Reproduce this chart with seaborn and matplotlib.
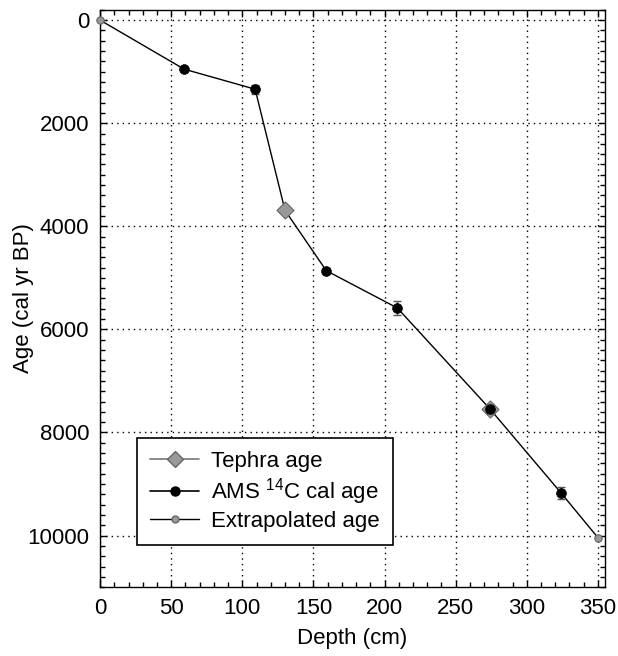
import matplotlib
matplotlib.use("Agg")
import matplotlib.pyplot as plt
from matplotlib.lines import Line2D
from matplotlib.ticker import MultipleLocator
import pandas as pd
import seaborn as sns

# data
ams_depth = [59, 109, 159, 209, 274, 324]
ams_age = [950, 1340, 4860, 5585, 7540, 9170]
ams_err = [40, 90, 50, 130, 100, 115]

tephra_depth = [130, 274]
tephra_age = [3690, 7540]

extrap_depth = [0, 350]
extrap_age = [0, 10040]

sns.set_style("ticks")
plt.rcParams["font.family"] = ["Liberation Sans", "DejaVu Sans"]
plt.rcParams["mathtext.default"] = "regular"
plt.rcParams["font.size"] = 16

# all dated points, connected in depth order
line_df = pd.DataFrame({
    "depth": ams_depth + tephra_depth[:1] + extrap_depth,
    "age": ams_age + tephra_age[:1] + extrap_age,
}).sort_values("depth")

fig = plt.figure(figsize=(6.18, 6.56), dpi=100)
ax = fig.add_axes([0.162, 0.105, 0.817, 0.88])

ax.grid(True, which="major", color="black", linestyle=(0, (1, 3)), linewidth=1.0)
ax.set_axisbelow(True)

sns.lineplot(data=line_df, x="depth", y="age", sort=False, color="black",
             linewidth=1.0, ax=ax, zorder=2)

ax.errorbar(ams_depth, ams_age, yerr=ams_err, fmt="none", ecolor="#555555",
            elinewidth=1.0, capsize=3, capthick=1.0, zorder=3)

sns.scatterplot(x=tephra_depth, y=tephra_age, marker="D", s=75, color="#999999",
                edgecolor="#666666", linewidth=0.8, ax=ax, zorder=4)
sns.scatterplot(x=ams_depth, y=ams_age, marker="o", s=50, color="black",
                edgecolor="black", linewidth=0.5, ax=ax, zorder=5)
sns.scatterplot(x=extrap_depth, y=extrap_age, marker="o", s=28, color="#999999",
                edgecolor="#666666", linewidth=0.8, ax=ax, zorder=5, clip_on=False)

ax.set_xlim(0, 355)
ax.set_ylim(11000, -200)
ax.xaxis.set_major_locator(MultipleLocator(50))
ax.xaxis.set_minor_locator(MultipleLocator(10))
ax.yaxis.set_major_locator(MultipleLocator(2000))
ax.yaxis.set_minor_locator(MultipleLocator(200))
ax.tick_params(which="both", direction="in", top=True, right=True,
               color="black", labelsize=16, labelcolor="black", pad=8)
ax.tick_params(which="major", length=5, width=1)
ax.tick_params(which="minor", length=3.5, width=1)
for sp in ax.spines.values():
    sp.set_color("black")
    sp.set_linewidth(1.0)

ax.set_xlabel("Depth (cm)", fontsize=16, color="black", labelpad=6)
ax.set_ylabel("Age (cal yr BP)", fontsize=16, color="black")
ax.yaxis.set_label_coords(-0.13, 0.5)

handles = [
    Line2D([], [], color="#777777", linewidth=1.2, marker="D", markersize=8,
           markerfacecolor="#999999", markeredgecolor="#666666"),
    Line2D([], [], color="black", linewidth=1.2, marker="o", markersize=6.5,
           markerfacecolor="black", markeredgecolor="black"),
    Line2D([], [], color="black", linewidth=1.0, marker="o", markersize=5,
           markerfacecolor="#999999", markeredgecolor="#666666"),
]
labels = ["Tephra age", "AMS $^{14}$C cal age", "Extrapolated age"]
leg = ax.legend(handles, labels, loc="lower left", bbox_to_anchor=(0.073, 0.073),
                borderaxespad=0, fontsize=16, frameon=True, fancybox=False,
                edgecolor="black", framealpha=1, handlelength=2.2,
                labelspacing=0.17, borderpad=0.6, handletextpad=0.55)
leg.get_frame().set_linewidth(1.2)
for t in leg.get_texts():
    t.set_color("black")

fig.savefig("out.png", dpi=100)
